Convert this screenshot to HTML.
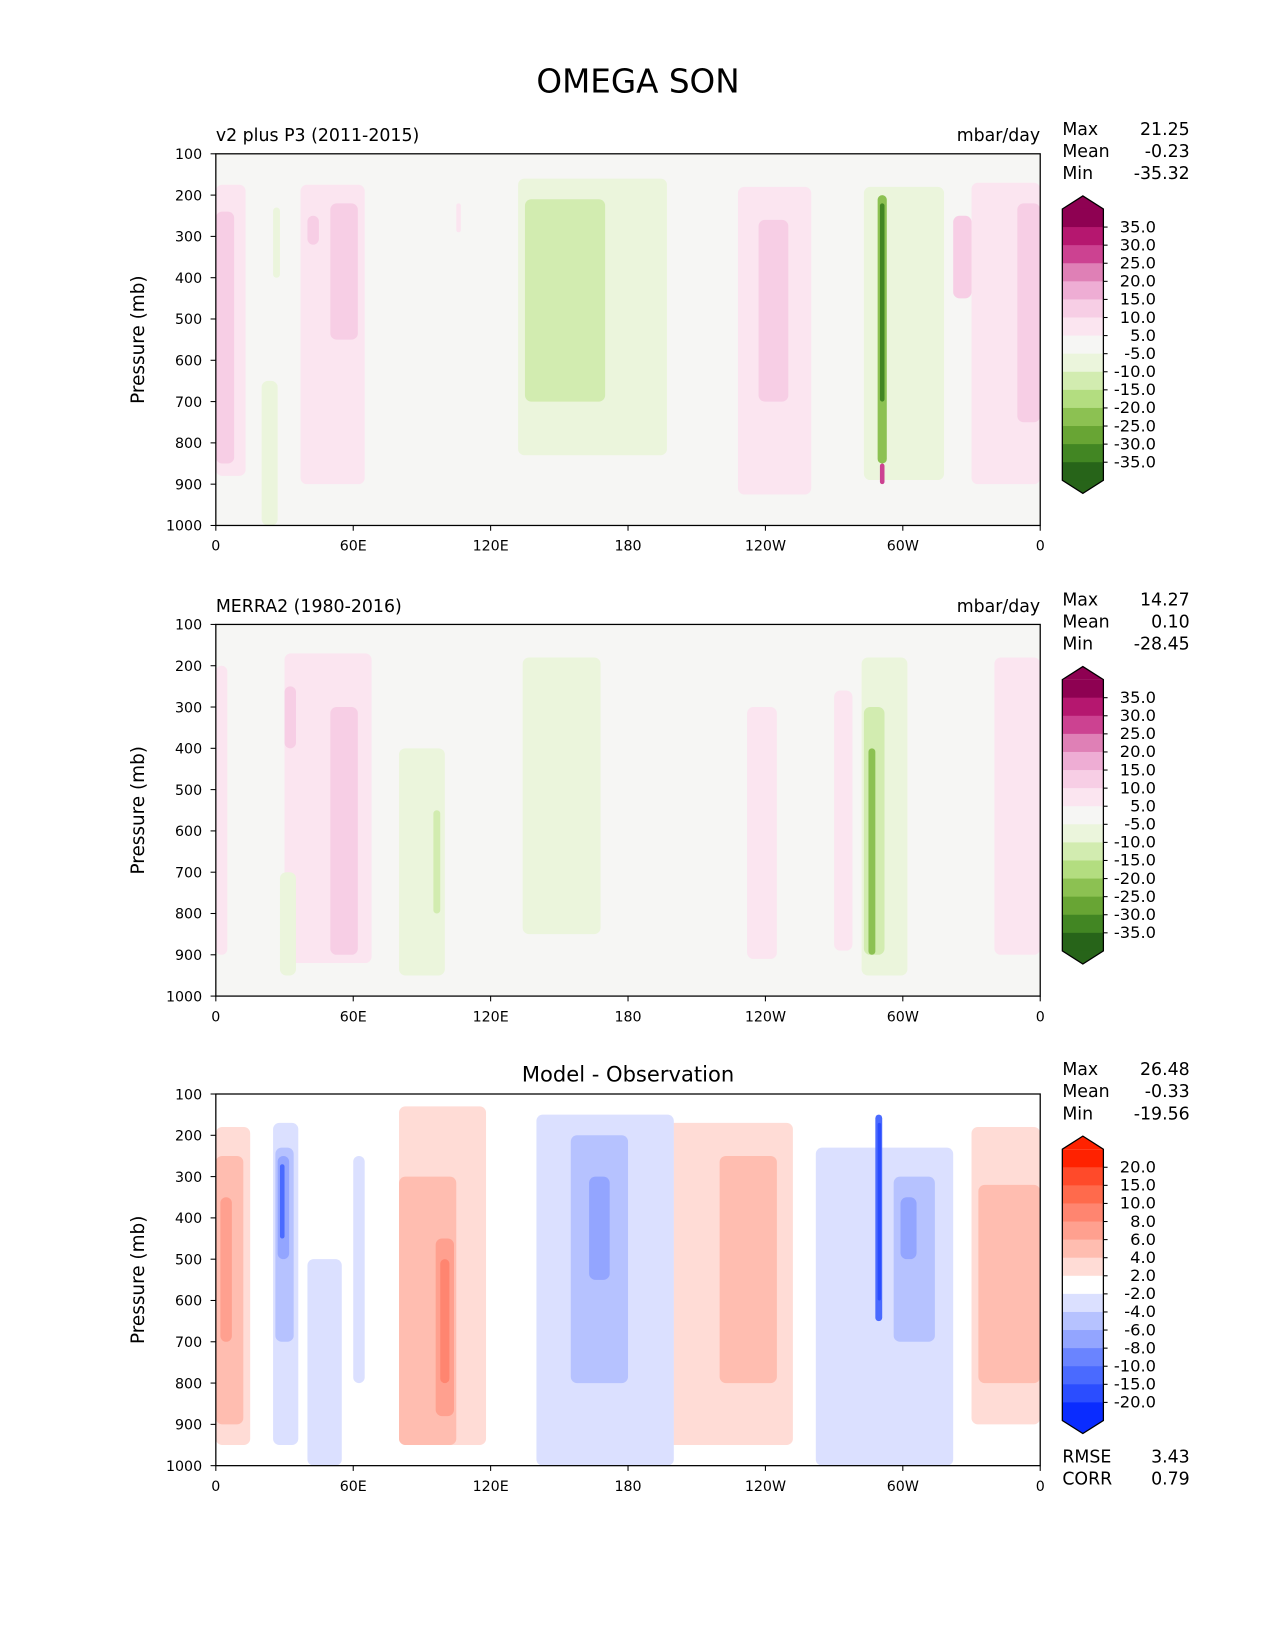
<!DOCTYPE html>
<html><head><meta charset="utf-8"><style>body{margin:0;background:#fff}svg{display:block}text{font-family:"DejaVu Sans","Liberation Sans",sans-serif;fill:#000}</style></head>
<body>
<svg id="fig" width="1275" height="1650" viewBox="0 0 1211 1567" xmlns="http://www.w3.org/2000/svg">
<text x="606" y="88" font-size="31" text-anchor="middle">OMEGA SON</text>
</svg>
<script>
// ---- data ----
const pressureTicks=[100,200,300,400,500,600,700,800,900,1000];
const lonTickVals=[0,60,120,180,240,300,360];
const lonTickLabels=["0","60E","120E","180","120W","60W","0"];
const piygBounds=[-35,-30,-25,-20,-15,-10,-5,5,10,15,20,25,30,35];
const piygLabels=["35.0","30.0","25.0","20.0","15.0","10.0","5.0","-5.0","-10.0","-15.0","-20.0","-25.0","-30.0","-35.0"];
const diffBounds=[-20,-15,-10,-8,-6,-4,-2,2,4,6,8,10,15,20];
const diffLabels=["20.0","15.0","10.0","8.0","6.0","4.0","2.0","-2.0","-4.0","-6.0","-8.0","-10.0","-15.0","-20.0"];
const piygColors=["#276419","#428623","#68a534","#8cc152","#b3dd80","#d2ecb0","#ebf5dc","#f6f6f4","#fbe5f0","#f7cee5","#eeadd4","#df80b6","#cc4291","#b5176f","#8e0152"];
const diffColors=["#0a2cff","#2b4dff","#4a6aff","#6a84ff","#93a5ff","#b6c2ff","#dbe0ff","#ffffff","#ffdcd6","#ffbdb0","#ffa08f","#ff8570","#ff6a4c","#ff4a2a","#ff2200"];
// panel 1 blobs
const p1Lon0=[0,37,228,330,105,0,40,50,237,350,322,132,283,25,20,135,289,290,290];
const p1Lon1=[13,65,260,360,107,8,45,62,250,360,330,197,318,28,27,170,293,292,292];
const p1P0=[175,175,180,170,220,240,250,220,260,220,250,160,180,230,650,210,200,220,850];
const p1P1=[880,900,925,900,290,850,320,550,700,750,450,830,890,400,1000,700,850,700,900];
const p1Val=[7,7,7,7,7,12,12,12,12,12,12,-7,-7,-7,-7,-12,-22,-32,27];
// panel 2 blobs
const p2Lon0=[0,30,232,270,340,50,30,134,80,282,28,95,283,285];
const p2Lon1=[5,68,245,278,360,62,35,168,100,302,35,98,292,288];
const p2P0=[200,170,300,260,180,300,250,180,400,180,700,550,300,400];
const p2P1=[900,920,910,890,900,900,400,850,950,950,950,800,900,900];
const p2Val=[7,7,7,7,7,12,12,-7,-7,-7,-7,-12,-12,-22];
// panel 3 blobs
const p3Lon0=[0,80,195,330,285,0,80,220,333,282,2,96,288,98,289,25,140,262,40,60,26,155,296,27,163,299,28,288,289];
const p3Lon1=[15,118,252,360,296,12,105,245,360,294,7,104,294,102,293,36,200,322,55,65,34,180,314,32,172,306,30,291,290.5];
const p3P0=[180,130,170,180,300,250,300,250,320,500,350,450,750,500,780,170,150,230,500,250,230,200,300,250,300,350,270,150,170];
const p3P1=[950,950,950,900,1000,900,950,800,800,900,700,880,920,800,900,950,1000,1000,1000,800,700,800,700,500,550,500,450,650,600];
const p3Val=[3,3,3,3,3,5,5,5,5,5,7,7,7,9,9,-3,-3,-3,-3,-3,-5,-5,-5,-7,-7,-7,-12,-12,-18];
const stats1=["21.25","-0.23","-35.32"],stats2=["14.27","0.10","-28.45"],stats3=["26.48","-0.33","-19.56"];

const NS="http://www.w3.org/2000/svg";
const svg=document.getElementById('fig');
const X0=205,X1=988;
function mk(tag,attrs,parent){const e=document.createElementNS(NS,tag);for(const k in attrs)e.setAttribute(k,attrs[k]);(parent||svg).appendChild(e);return e;}
function colorFor(v,bounds,colors){let i=0;while(i<bounds.length&&v>=bounds[i])i++;return colors[i];}

function panel(top,bg,lon0,lon1,p0,p1,val,bounds,colors,cbColors,cbLabels,stats,leftTitle,rightTitle,centerTitle,idx){
  const H=353;
  const xs=l=>X0+l/360*(X1-X0);
  const ys=p=>top+(p-100)/900*H;
  const g=mk('g',{});
  
  
  const cp=mk('clipPath',{id:'cp'+idx},g);
  mk('rect',{x:X0,y:top,width:X1-X0,height:H},cp);
  const bgr=mk('rect',{x:X0,y:top,width:X1-X0,height:H,fill:bg},g);
  
  
  const fg=mk('g',{'clip-path':'url(#cp'+idx+')'},g);
  for(let i=0;i<val.length;i++){
    const r=mk('rect',{x:xs(lon0[i]),y:ys(p0[i]),width:xs(lon1[i])-xs(lon0[i]),height:ys(p1[i])-ys(p0[i]),rx:Math.min(6,(xs(lon1[i])-xs(lon0[i]))/2),fill:colorFor(val[i],bounds,colors)},fg);
    
    
  }
  mk('rect',{x:X0,y:top,width:X1-X0,height:H,fill:'none',stroke:'#000','stroke-width':1.2},g);
  pressureTicks.forEach(p=>{
    mk('line',{x1:X0-5,x2:X0,y1:ys(p),y2:ys(p),stroke:'#000'},g);
    const t=mk('text',{x:X0-13,y:ys(p)+5,'font-size':13.5,'text-anchor':'end'},g);t.textContent=p;
    
    
  });
  lonTickVals.forEach((l,i)=>{
    mk('line',{x1:xs(l),x2:xs(l),y1:top+H,y2:top+H+5,stroke:'#000'},g);
    const t=mk('text',{x:xs(l),y:top+H+24,'font-size':13.5,'text-anchor':'middle'},g);t.textContent=lonTickLabels[i];
    
    
  });
  const yl=mk('text',{x:0,y:0,'font-size':17.5,'text-anchor':'middle',transform:`translate(137,${top+H/2}) rotate(-90)`},g);yl.textContent='Pressure (mb)';
  
  
  if(leftTitle){const t=mk('text',{x:X0,y:top-12,'font-size':16.5},g);t.textContent=leftTitle;
    
    }
  if(rightTitle){const t=mk('text',{x:X1,y:top-12,'font-size':16.5,'text-anchor':'end'},g);t.textContent=rightTitle;
    
    }
  if(centerTitle){const t=mk('text',{x:(X0+X1)/2,y:top-12,'font-size':20,'text-anchor':'middle'},g);t.textContent=centerTitle;
    
    }
  ['Max','Mean','Min'].forEach((n,i)=>{
    const a=mk('text',{x:1009,y:top-18+i*21,'font-size':16.5},g);a.textContent=n;
    
    
    const b=mk('text',{x:1130,y:top-18+i*21,'font-size':16.5,'text-anchor':'end'},g);b.textContent=stats[i];
    
    
  });
  const cx0=1009,cx1=1048,apex=top+40,base=apex+12.4,step=17.18;
  const n=cbColors.length;
  const cb=mk('g',{},g);
  
  
  const bottomBase=base+n*step;
  mk('polygon',{points:`${cx0},${base} ${(cx0+cx1)/2},${apex} ${cx1},${base}`,fill:cbColors[n-1]},cb);
  for(let i=0;i<n;i++){
    mk('rect',{x:cx0,y:base+i*step,width:cx1-cx0,height:step+0.5,fill:cbColors[n-1-i]},cb);
  }
  mk('polygon',{points:`${cx0},${bottomBase} ${(cx0+cx1)/2},${bottomBase+12.4} ${cx1},${bottomBase}`,fill:cbColors[0]},cb);
  mk('polygon',{points:`${cx0},${base} ${(cx0+cx1)/2},${apex} ${cx1},${base} ${cx1},${bottomBase} ${(cx0+cx1)/2},${bottomBase+12.4} ${cx0},${bottomBase}`,fill:'none',stroke:'#000','stroke-width':1.2},cb);
  cbLabels.forEach((lb,i)=>{
    const yy=base+(i+1)*step;
    mk('line',{x1:cx1,x2:cx1+4,y1:yy,y2:yy,stroke:'#000'},cb);
    const t=mk('text',{x:1098,y:yy+5,'font-size':15.5,'text-anchor':'end'},cb);t.textContent=lb;
    
    
  });
}
panel(146,'#f6f6f4',p1Lon0,p1Lon1,p1P0,p1P1,p1Val,piygBounds,piygColors,piygColors,piygLabels,stats1,'v2 plus P3 (2011-2015)','mbar/day',null,1);
panel(593,'#f6f6f4',p2Lon0,p2Lon1,p2P0,p2P1,p2Val,piygBounds,piygColors,piygColors,piygLabels,stats2,'MERRA2 (1980-2016)','mbar/day',null,2);
panel(1039,'#ffffff',p3Lon0,p3Lon1,p3P0,p3P1,p3Val,diffBounds,diffColors,diffColors,diffLabels,stats3,null,null,'Model - Observation',3);
[['RMSE','3.43',1389],['CORR','0.79',1410]].forEach(s=>{
  const a=mk('text',{x:1009,y:s[2],'font-size':16.5});a.textContent=s[0];
  
  
  const b=mk('text',{x:1130,y:s[2],'font-size':16.5,'text-anchor':'end'});b.textContent=s[1];
  
  
});
</script>
</body></html>
